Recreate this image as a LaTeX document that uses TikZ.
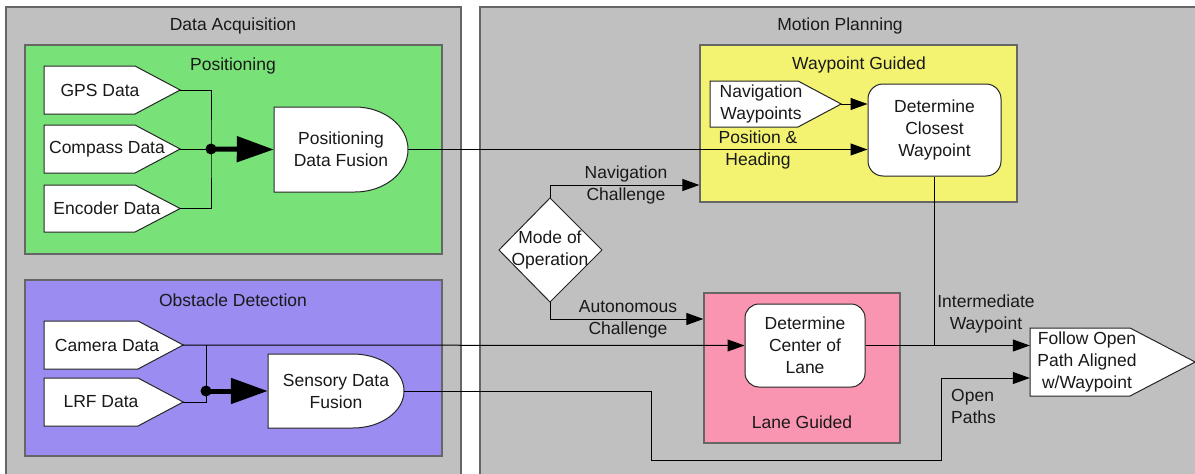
\documentclass[tikz,border=0pt]{standalone}
\usepackage{fontspec}
\setmainfont{Liberation Sans}
\usetikzlibrary{arrows.meta}
\definecolor{panelgray}{HTML}{C0C0C0}
\definecolor{greenbox}{HTML}{78E278}
\definecolor{purplebox}{HTML}{9A8CF0}
\definecolor{yellowbox}{HTML}{F3F371}
\definecolor{pinkbox}{HTML}{F995B1}
\newcommand\pentshape[8]{% name, xl, yt, xr, yb, shoulder x, text x, text
  \node[frame, minimum width={(#4-#2)*1pt}, minimum height={(#5-#3)*1pt}] (#1) at ({(#2+#4)/2},{(#3+#5)/2}) {};
  \draw[shp] (#2,#3) -- (#6,#3) -- (#1.east) -- (#6,#5) -- (#2,#5) -- cycle;
  \node[txt] (#1-t) at (#7,{(#3+#5)/2}) {#8};
}
\newcommand\dshape[7]{% name, xl, yt, xs, xr, yb, text
  \draw[shp] (#2,#3) -- (#4,#3)
    .. controls ({#4+0.552*(#5-#4)},#3) and (#5,{(#3+#6)/2-0.552*(#6-#3)/2}) .. (#5,{(#3+#6)/2})
    .. controls (#5,{(#3+#6)/2+0.552*(#6-#3)/2}) and ({#4+0.552*(#5-#4)},#6) .. (#4,#6)
    -- (#2,#6) -- cycle;
  \node[txt, minimum width={(#5-#2)*1pt}, minimum height={(#6-#3)*1pt}] (#1) at ({(#2+#5)/2},{(#3+#6)/2}) {#7};
}
\begin{document}
\begin{tikzpicture}[x=1pt,y=-1pt,
  txt/.style={font=\fontsize{17.5}{22}\selectfont, align=center, inner sep=0, text=black!90},
  frame/.style={inner sep=0, draw=none},
  shp/.style={draw=black!85, fill=white, line width=1},
  conn/.style={draw=black, line width=1},
  arr/.style={conn, -{Triangle[length=17pt,width=12pt]}},
  fat/.style={draw=black, line width=5, -{Triangle[length=37pt,width=25pt]}},
  panelbox/.style={draw=black!60, line width=1.2, inner sep=0},
  rbox/.style={txt, draw=black!85, fill=white, line width=1, rounded corners=15}
]
\useasboundingbox (0,0) rectangle (1195,474);
\clip (0,0) rectangle (1195,474);
\fill[white] (0,0) rectangle (1195,474);

% panels
\node[panelbox, fill=panelgray, minimum width=455, minimum height=480] (daq) at (233.5,247) {};
\node[panelbox, fill=panelgray, minimum width=730, minimum height=480] (mp) at (845,247) {};
\node[txt] (daq-t) at (233,26) {Data Acquisition};
\node[txt] (mp-t) at (840,26) {Motion Planning};

% coloured boxes
\node[panelbox, fill=greenbox, minimum width=417, minimum height=209] (posbox) at (233.5,149.5) {};
\node[txt] (posbox-t) at (233,66) {Positioning};
\node[panelbox, fill=purplebox, minimum width=417, minimum height=176] (obsbox) at (233.5,368) {};
\node[txt] (obsbox-t) at (233,300) {Obstacle Detection};
\node[panelbox, fill=yellowbox, minimum width=317, minimum height=157] (wpg) at (858.5,123.5) {};
\node[txt] (wpg-t) at (859,65) {Waypoint Guided};
\node[panelbox, fill=pinkbox, minimum width=196, minimum height=150] (lg) at (802,368) {};
\node[txt] (lg-t) at (802,422) {Lane Guided};

% input shapes
\pentshape{gps}{44}{66}{180}{114}{135}{100}{GPS Data}
\pentshape{comp}{44}{125}{180}{173}{135}{107}{Compass Data}
\pentshape{enc}{44}{185}{180}{232}{135}{107}{Encoder Data}
\pentshape{cam}{44}{321}{183}{369}{138}{107}{Camera Data}
\pentshape{lrf}{44}{378}{183}{426}{138}{101}{LRF Data}
\pentshape{navwp}{710}{81}{841}{127}{798}{761}{Navigation\\Waypoints}
\pentshape{follow}{1030}{328}{1195}{396}{1130}{1087}{Follow Open\\Path Aligned\\w/Waypoint}

% fusion shapes
\dshape{pdf}{274}{107}{355}{408}{192}{Positioning\\Data Fusion}
\dshape{sdf}{268}{354}{353}{404}{428}{Sensory Data\\Fusion}

% process boxes
\node[rbox, minimum width=133, minimum height=92] (dcw) at (934.5,130) {Determine\\Closest\\Waypoint};
\node[rbox, minimum width=120, minimum height=83, rounded corners=14] (dcl) at (805,345.5) {Determine\\Center of\\Lane};

% decision
\draw[shp] (550,198) -- (602,250) -- (550,302) -- (499,250) -- cycle;
\node[txt, minimum width=103, minimum height=104] (mode) at (550,250) {Mode of\\Operation};

% junctions
\coordinate (j1) at (211,149);
\coordinate (j2) at (206,391);
\coordinate (j2t) at (206,345);
\coordinate (ny) at (0,185);
\coordinate (ay) at (0,319);
\coordinate (iw) at (934.5,345);
\coordinate (op1) at (651,391);
\coordinate (op2) at (651,460);
\coordinate (op3) at (941,460);
\coordinate (op4) at (941,378);

% positioning connectors
\draw[conn] (gps.east) -| (j1) |- (enc.east);
\draw[conn] (comp.east) -- (j1);
\fill (j1) circle (5.5);
\draw[fat] (j1) -- (pdf.west);

% obstacle connectors
\draw[conn] (lrf.east) -| (j2t);
\fill (j2) circle (5.5);
\draw[fat] (j2) -- (sdf.west);
\draw[arr] (cam.east) -- (dcl.west);

% motion planning connectors
\draw[arr] (pdf.east) -- (pdf.east -| dcw.west);
\draw[arr] (navwp.east) -- (navwp.east -| dcw.west);
\draw[arr] (mode.north) |- (wpg.west |- ny);
\draw[arr] (mode.south) |- (lg.west |- ay);
\draw[conn] (dcw.south) -- (iw);
\draw[arr] (dcl.east) -- (dcl.east -| follow.west);
\draw[arr] (sdf.east) -- (op1) -- (op2) -- (op3) -- (op4) -- (op4 -| follow.west);

% labels
\node[txt] (lbl-nav) at (626,185) {Navigation\\Challenge};
\node[txt] (lbl-aut) at (628,319) {Autonomous\\Challenge};
\node[txt] (lbl-pos) at (758,150) {Position \&\\Heading};
\node[txt] (lbl-int) at (986,314) {Intermediate\\Waypoint};
\node[txt, anchor=west, align=left] (lbl-open) at (951,406) {Open\\Paths};
\end{tikzpicture}
\end{document}
